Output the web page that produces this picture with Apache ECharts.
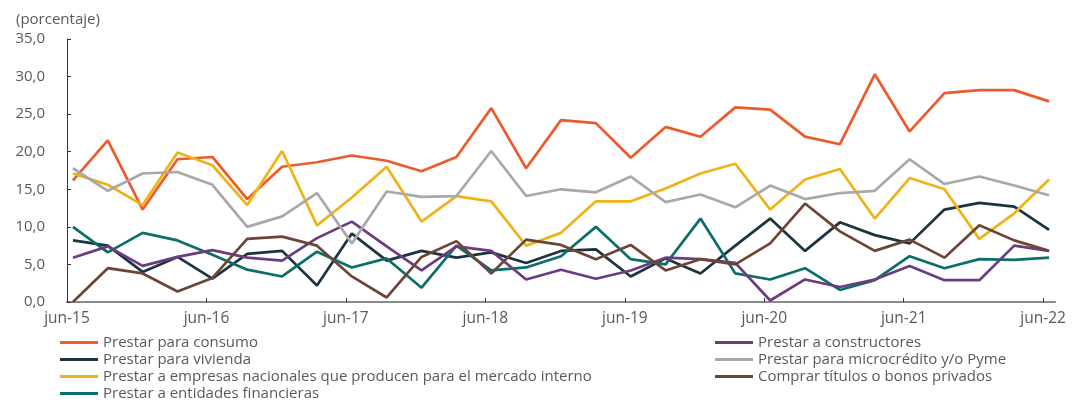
<!DOCTYPE html>
<html>
<head>
<meta charset="utf-8">
<script src="https://cdn.jsdelivr.net/npm/echarts@6/dist/echarts.min.js"></script>
<style>
  html, body { margin: 0; padding: 0; background: #fff; }
  #chart { width: 1084px; height: 402px; }
</style>
</head>
<body>
<div id="chart"></div>
<script>
// quarterly observations, jun-15 .. jun-22
const quarters = [
  'jun-15','sep-15','dic-15','mar-16','jun-16','sep-16','dic-16','mar-17',
  'jun-17','sep-17','dic-17','mar-18','jun-18','sep-18','dic-18','mar-19',
  'jun-19','sep-19','dic-19','mar-20','jun-20','sep-20','dic-20','mar-21',
  'jun-21','sep-21','dic-21','mar-22','jun-22'
]
const tickLabels = ['jun-15','jun-16','jun-17','jun-18','jun-19','jun-20','jun-21','jun-22']

const consumo       = [16.2, 21.5, 12.3, 19.0, 19.3, 13.7, 18.0, 18.6, 19.5, 18.8, 17.4, 19.3, 25.8, 17.8, 24.2, 23.8, 19.2, 23.3, 22.0, 25.9, 25.6, 22.0, 21.0, 30.3, 22.7, 27.8, 28.2, 28.2, 26.7]
const vivienda      = [8.2, 7.5, 4.0, 6.0, 3.1, 6.4, 6.8, 2.2, 9.1, 5.5, 6.8, 5.9, 6.6, 5.2, 6.8, 7.0, 3.4, 5.8, 3.8, 7.5, 11.1, 6.8, 10.6, 8.9, 7.8, 12.3, 13.2, 12.7, 9.6]
const empresas      = [17.1, 15.6, 12.9, 19.9, 18.2, 12.9, 20.1, 10.2, 13.9, 18.0, 10.7, 14.1, 13.4, 7.5, 9.2, 13.4, 13.4, 15.1, 17.1, 18.4, 12.3, 16.3, 17.7, 11.1, 16.5, 15.0, 8.4, 11.8, 16.3]
const financieras   = [10.0, 6.6, 9.2, 8.2, 6.3, 4.3, 3.4, 6.7, 4.6, 5.8, 1.9, 7.5, 4.2, 4.6, 6.1, 10.0, 5.7, 5.0, 11.1, 3.8, 3.0, 4.5, 1.6, 2.9, 6.1, 4.5, 5.7, 5.6, 5.9]
const constructores = [5.9, 7.4, 4.8, 6.0, 6.9, 5.9, 5.5, 8.5, 10.7, 7.4, 4.2, 7.4, 6.8, 3.0, 4.3, 3.1, 4.2, 5.9, 5.7, 5.2, 0.2, 3.0, 2.0, 3.0, 4.8, 2.9, 2.9, 7.5, 6.8]
const microcredito  = [17.8, 14.8, 17.1, 17.3, 15.6, 10.0, 11.4, 14.5, 7.8, 14.7, 14.0, 14.1, 20.1, 14.1, 15.0, 14.6, 16.7, 13.3, 14.3, 12.6, 15.5, 13.7, 14.5, 14.8, 19.0, 15.7, 16.7, 15.5, 14.2]
const titulos       = [0.0, 4.5, 3.8, 1.4, 3.2, 8.4, 8.7, 7.5, 3.4, 0.6, 6.0, 8.1, 3.8, 8.3, 7.6, 5.7, 7.6, 4.2, 5.7, 5.0, 7.8, 13.1, 9.4, 6.8, 8.3, 5.9, 10.2, 8.2, 6.8]

// points sit a little after the tick of their quarter (as in the original date axis)
const pointOffset = 0.17

const textColor = '#595959'
const font = 'Open Sans'

function toPoints(values) {
  return values.map((v, i) => [i + pointOffset, v])
}

function makeSeries(name, values, color) {
  return {
    name: name,
    type: 'line',
    data: toPoints(values),
    symbol: 'none',
    color: color,
    lineStyle: { width: 2.7, color: color },
    animation: false
  }
}

const series = [
  makeSeries('Prestar para consumo', consumo, '#EE5A2C'),
  makeSeries('Prestar para vivienda', vivienda, '#1C3441'),
  makeSeries('Prestar a empresas nacionales que producen para el mercado interno', empresas, '#EFB217'),
  makeSeries('Prestar a entidades financieras', financieras, '#0B6E6A'),
  makeSeries('Prestar a constructores', constructores, '#6B3D7E'),
  makeSeries('Prestar para microcrédito y/o Pyme', microcredito, '#A8A8AA'),
  makeSeries('Comprar títulos o bonos privados', titulos, '#6D4537')
]

const tickValues = tickLabels.map((t, i) => i * 4)

const legendBase = {
  orient: 'vertical',
  icon: 'rect',
  itemWidth: 38,
  itemHeight: 3,
  itemGap: 0,
  padding: 0,
  height: 72,
  selectedMode: false,
  textStyle: { color: textColor, fontSize: 15, fontFamily: font, lineHeight: 17 }
}

const chart = echarts.init(document.getElementById('chart'), null, { renderer: 'canvas' })
chart.setOption({
  backgroundColor: '#fff',
  animation: false,
  title: {
    text: '(porcentaje)',
    left: 11,
    top: 7,
    textStyle: { color: textColor, fontSize: 15, fontWeight: 'normal', fontFamily: font }
  },
  grid: { left: 67, right: 29, top: 39, bottom: 100 },
  legend: [
    Object.assign({}, legendBase, {
      left: 60, top: 334,
      data: series.slice(0, 4).map(s => s.name)
    }),
    Object.assign({}, legendBase, {
      left: 715, top: 334,
      data: series.slice(4).map(s => s.name)
    })
  ],
  xAxis: {
    type: 'value',
    min: 0,
    max: 28.34,
    interval: 4,
    splitLine: { show: false },
    axisLine: { show: true, lineStyle: { color: '#8a8a8a', width: 2 } },
    axisTick: {
      show: true, inside: true, length: 4,
      customValues: tickValues,
      lineStyle: { color: '#333', width: 1 }
    },
    axisLabel: {
      customValues: tickValues,
      margin: 9,
      color: textColor,
      fontSize: 15.5,
      fontFamily: font,
      formatter: v => tickLabels[Math.round(v / 4)] || ''
    }
  },
  yAxis: {
    type: 'value',
    min: 0,
    max: 35,
    interval: 5,
    splitLine: { show: false },
    axisLine: { show: true, lineStyle: { color: '#333', width: 1 } },
    axisTick: { show: true, inside: true, length: 4, lineStyle: { color: '#333' } },
    axisLabel: {
      margin: 22,
      color: textColor,
      fontSize: 15,
      fontFamily: font,
      formatter: v => v.toFixed(1).replace('.', ',')
    }
  },
  series: series
})
</script>
</body>
</html>
